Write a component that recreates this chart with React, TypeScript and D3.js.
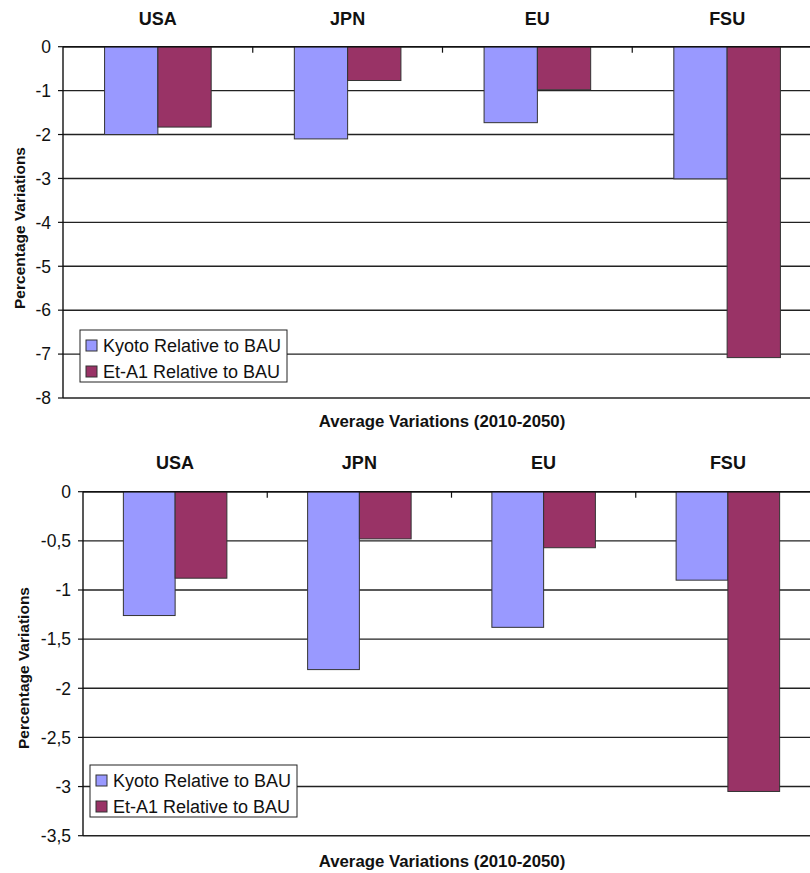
import React from "react";
import * as d3 from "d3";

// Regions and the two scenario series
const regions = ["USA", "JPN", "EU", "FSU"];
const seriesNames = ["Kyoto Relative to BAU", "Et-A1 Relative to BAU"];
const seriesColors = ["#9999FF", "#993366"];

// Upper panel values (%)
const kyotoUpper = [-2.0, -2.1, -1.73, -3.01];
const etA1Upper = [-1.83, -0.77, -0.98, -7.08];
const upperTicks = [0, -1, -2, -3, -4, -5, -6, -7, -8];

// Lower panel values (%)
const kyotoLower = [-1.26, -1.81, -1.38, -0.9];
const etA1Lower = [-0.88, -0.48, -0.57, -3.05];
const lowerTicks = [0, -0.5, -1, -1.5, -2, -2.5, -3, -3.5];

const yTitle = "Percentage Variations";
const xTitle = "Average Variations (2010-2050)";

const FONT = "'Liberation Sans', Arial, Helvetica, sans-serif";

type PanelProps = {
  kyoto: number[];
  etA1: number[];
  ticks: number[];
  left: number;
  right: number;
  top: number;
  bottom: number;
  catLabelY: number;
  yTitleX: number;
  yTitleY: number;
  xTitleY: number;
  legendX: number;
  legendY: number;
};

const fmt = (v: number) => String(v).replace(".", ",");

function Panel(p: PanelProps) {
  const yMin = d3.min(p.ticks) as number;
  const y = d3.scaleLinear().domain([0, yMin]).range([p.top, p.bottom]);
  const x = d3.scaleBand<string>().domain(regions).range([p.left, p.right]).padding(0);
  const xs = d3
    .scaleBand<string>()
    .domain(seriesNames)
    .range([0, x.bandwidth()])
    .paddingInner(0)
    .paddingOuter(0.78);
  const series = [p.kyoto, p.etA1];
  const boundaries = regions.slice(1).map((r) => x(r) as number);

  return (
    <g>
      {/* horizontal gridlines */}
      {p.ticks.map((t) => (
        <line
          key={"g" + t}
          x1={p.left}
          x2={p.right}
          y1={y(t)}
          y2={y(t)}
          stroke="#222"
          strokeWidth={1.4}
        />
      ))}
      {/* bars */}
      {series.map((vals, si) =>
        regions.map((r, i) => {
          const bx = (x(r) as number) + (xs(seriesNames[si]) as number);
          const y0 = y(0);
          const y1 = y(vals[i]);
          return (
            <rect
              key={r + si}
              x={bx}
              y={Math.min(y0, y1)}
              width={xs.bandwidth()}
              height={Math.abs(y1 - y0)}
              fill={seriesColors[si]}
              stroke="#333"
              strokeWidth={1}
            />
          );
        })
      )}
      {/* category axis at zero with tick marks between regions */}
      <line x1={p.left} x2={p.right} y1={y(0)} y2={y(0)} stroke="#111" strokeWidth={1.4} />
      {boundaries.map((bx) => (
        <line key={"c" + bx} x1={bx} x2={bx} y1={y(0)} y2={y(0) + 6} stroke="#111" strokeWidth={1.2} />
      ))}
      {/* value axis */}
      <line x1={p.left} x2={p.left} y1={p.top} y2={p.bottom} stroke="#111" strokeWidth={1.4} />
      {p.ticks.map((t) => (
        <g key={"t" + t}>
          <line x1={p.left - 5} x2={p.left} y1={y(t)} y2={y(t)} stroke="#111" strokeWidth={1.2} />
          <text
            x={p.left - 12}
            y={y(t)}
            dy="0.36em"
            textAnchor="end"
            fontSize={17.5}
            fontFamily={FONT}
            fill="#111"
          >
            {fmt(t)}
          </text>
        </g>
      ))}
      {/* region labels */}
      {regions.map((r) => (
        <text
          key={"l" + r}
          x={(x(r) as number) + x.bandwidth() / 2}
          y={p.catLabelY}
          textAnchor="middle"
          fontSize={18}
          fontWeight="bold"
          fontFamily={FONT}
          fill="#111"
        >
          {r}
        </text>
      ))}
      {/* axis titles */}
      <text
        transform={`translate(${p.yTitleX},${p.yTitleY}) rotate(-90)`}
        textAnchor="middle"
        fontSize={15.5}
        fontWeight="bold"
        fontFamily={FONT}
        fill="#111"
      >
        {yTitle}
      </text>
      <text
        x={442}
        y={p.xTitleY}
        textAnchor="middle"
        fontSize={16.8}
        fontWeight="bold"
        fontFamily={FONT}
        fill="#111"
      >
        {xTitle}
      </text>
      {/* legend */}
      <g transform={`translate(${p.legendX},${p.legendY})`}>
        <rect x={0} y={0} width={207} height={52} fill="#fff" stroke="#222" strokeWidth={1} />
        {seriesNames.map((s, i) => (
          <g key={"lg" + s} transform={`translate(6,${10 + i * 26})`}>
            <rect x={0} y={0} width={11} height={11} fill={seriesColors[i]} stroke="#333" strokeWidth={1} />
            <text x={17} y={11.5} fontSize={18} fontFamily={FONT} fill="#111">
              {s}
            </text>
          </g>
        ))}
      </g>
    </g>
  );
}

export default function App() {
  return (
    <div style={{ position: "absolute", left: 0, top: 0 }}>
      <svg width={810} height={873} style={{ display: "block", background: "#fff" }}>
        <rect x={0} y={0} width={810} height={873} fill="#fff" />
        <Panel
          kyoto={kyotoUpper}
          etA1={etA1Upper}
          ticks={upperTicks}
          left={63}
          right={822}
          top={46.7}
          bottom={398}
          catLabelY={25}
          yTitleX={25}
          yTitleY={228}
          xTitleY={427}
          legendX={80}
          legendY={330}
        />
        <Panel
          kyoto={kyotoLower}
          etA1={etA1Lower}
          ticks={lowerTicks}
          left={83}
          right={820}
          top={491.7}
          bottom={835.7}
          catLabelY={469}
          yTitleX={29}
          yTitleY={668}
          xTitleY={867}
          legendX={90}
          legendY={765}
        />
      </svg>
    </div>
  );
}
